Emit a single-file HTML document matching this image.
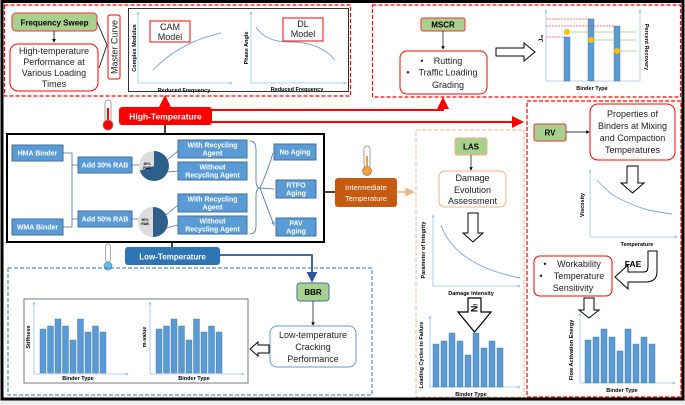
<!DOCTYPE html>
<html><head><meta charset="utf-8"><style>
html,body{margin:0;padding:0;background:#fff}
svg{display:block;font-family:"Liberation Sans",sans-serif}
.bb{fill:#5b9bd5;stroke:#41719c;stroke-width:1}
.bt{fill:#fff;font-size:7px;font-weight:bold;text-anchor:middle}
.gb{fill:#a9d18e;stroke:#e33;stroke-width:1}
.gt{fill:#000;font-size:8px;font-weight:bold;text-anchor:middle}
.rt{fill:#222;font-size:9px;text-anchor:middle}
.ax{stroke:#9dc3e6;stroke-width:0.8;fill:none}
.al{font-size:5.5px;font-weight:bold;fill:#000;text-anchor:middle}
.bar{fill:#5b9bd5;stroke:#41719c;stroke-width:0.4}
.cv{stroke:#7ea6d3;stroke-width:0.9;fill:none}
</style></head><body>
<svg width="685" height="405" viewBox="0 0 685 405">
<defs>
<marker id="ar" markerWidth="6" markerHeight="6" refX="5" refY="3" orient="auto"><path d="M0,0L6,3L0,6z" fill="#f00"/></marker>
<marker id="ab" markerWidth="6" markerHeight="6" refX="5" refY="3" orient="auto"><path d="M0,0L6,3L0,6z" fill="#2f5597"/></marker>
<marker id="ak" markerWidth="5" markerHeight="5" refX="4" refY="2.5" orient="auto"><path d="M0,0L5,2.5L0,5z" fill="#000"/></marker>
<marker id="ao" markerWidth="6" markerHeight="6" refX="5" refY="3" orient="auto"><path d="M0,0L6,3L0,6z" fill="#f4b183"/></marker>
<marker id="abl" markerWidth="5" markerHeight="5" refX="4" refY="2.5" orient="auto"><path d="M0,0L5,2.5L0,5z" fill="#5b9bd5"/></marker>
<marker id="ax" markerWidth="4" markerHeight="4" refX="3" refY="2" orient="auto"><path d="M0,0L4,2L0,4z" fill="#9dc3e6"/></marker>
</defs>
<rect x="0" y="400" width="685" height="5" fill="#eee"/>
<rect x="2" y="1.5" width="681" height="397.5" fill="none" stroke="#000" stroke-width="3"/>

<!-- top-left red dashed -->
<rect x="4.5" y="5" width="346" height="91" fill="none" stroke="#f00" stroke-width="1.2" stroke-dasharray="4,2"/>
<rect x="12" y="13" width="85" height="18" rx="4" class="gb"/>
<text x="54.5" y="25.5" class="gt" font-size="8.5">Frequency Sweep</text>
<line x1="54" y1="31" x2="54" y2="42" stroke="#000" stroke-width="0.8" marker-end="url(#ak)"/>
<rect x="10" y="44" width="88" height="47" rx="8" fill="#fff" stroke="#f00"/>
<text class="rt" font-size="8"><tspan x="54" y="54">High-temperature</tspan><tspan x="54" y="65">Performance at</tspan><tspan x="54" y="76">Various Loading</tspan><tspan x="54" y="87">Times</tspan></text>
<path d="M97,22 L107,45 M99,68 L107,45" stroke="#000" stroke-width="0.8" fill="none"/>
<rect x="108" y="15" width="12" height="64" rx="2" fill="#fff" stroke="#f00"/>
<text x="117.5" y="47" class="rt" font-size="8" transform="rotate(-90 117.5 47)">Master Curve</text>
<rect x="128.5" y="8.5" width="220" height="83" fill="#fff" stroke="#333" stroke-width="1"/>
<line x1="138" y1="83" x2="138" y2="12" class="ax" marker-end="url(#ax)"/>
<line x1="138" y1="83" x2="232" y2="83" class="ax" marker-end="url(#ax)"/>
<path d="M153,70 Q180,42 221,33" class="cv"/>
<rect x="150" y="21" width="40" height="21" fill="#fff" stroke="#f00"/>
<text class="rt" font-size="8"><tspan x="170" y="30">CAM</tspan><tspan x="170" y="40">Model</tspan></text>
<text x="136" y="48" class="al" transform="rotate(-90 136 48)">Complex Modulus</text>
<text x="184" y="92" class="al">Reduced Frequency</text>
<line x1="251" y1="83" x2="251" y2="12" class="ax" marker-end="url(#ax)"/>
<line x1="251" y1="83" x2="346" y2="83" class="ax" marker-end="url(#ax)"/>
<path d="M256,27 Q265,42 290,42 Q320,42 335,60" class="cv"/>
<rect x="283" y="18" width="40" height="23" fill="#fff" stroke="#f00"/>
<text class="rt" font-size="8"><tspan x="303" y="27">DL</tspan><tspan x="303" y="37">Model</tspan></text>
<text x="248" y="48" class="al" transform="rotate(-90 248 48)">Phase Angle</text>
<text x="297" y="91" class="al">Reduced Frequency</text>

<!-- top-right red dashed -->
<rect x="372.5" y="5" width="308" height="92" fill="none" stroke="#f00" stroke-width="1.2" stroke-dasharray="4,2"/>
<rect x="421" y="18" width="44" height="13" rx="2" class="gb"/>
<text x="443" y="27.5" class="gt">MSCR</text>
<line x1="443" y1="31" x2="443" y2="49" stroke="#000" stroke-width="0.7" marker-end="url(#ak)"/>
<rect x="400" y="51" width="87" height="43" rx="7" fill="#fff" stroke="#f00"/>
<text class="rt" font-size="8.5"><tspan x="422" y="64">•</tspan><tspan x="448" y="64">Rutting</tspan><tspan x="408" y="75.5">•</tspan><tspan x="448" y="75.5">Traffic Loading</tspan><tspan x="448" y="88">Grading</tspan></text>
<path d="M496,48 L524,48 L524,43 L535,52 L524,61 L524,56 L496,56 Z" fill="#fff" stroke="#000" stroke-width="1"/>
<line x1="546" y1="81" x2="546" y2="10" class="ax" marker-end="url(#ax)"/>
<line x1="546" y1="81" x2="640" y2="81" class="ax"/>
<line x1="640" y1="81" x2="640" y2="10" class="ax" marker-end="url(#ax)"/>
<rect x="564" y="37" width="6" height="44" class="bar"/>
<rect x="588" y="19" width="6" height="62" class="bar"/>
<rect x="614" y="26" width="6" height="55" class="bar"/>
<path d="M546,37 H565 M546,19 H590 M546,26 H615" stroke="#f00" stroke-width="0.6" stroke-dasharray="2,1"/>
<path d="M567,32 H637 M591,40 H637 M617,51 H637" stroke="#70ad47" stroke-width="0.6"/>
<circle cx="567" cy="32" r="3" fill="#ffc000"/><circle cx="591" cy="40" r="3" fill="#ffc000"/><circle cx="617" cy="51" r="3" fill="#ffc000"/>
<text x="543" y="42" font-size="6" font-weight="bold" transform="rotate(-90 543 42)">J<tspan font-size="4">nr</tspan></text>
<text x="645" y="47" class="al" transform="rotate(90 645 47)">Percent Recovery</text>
<text x="592" y="90" class="al">Binder Type</text>

<!-- high temp -->
<g transform="translate(108,100)"><rect x="-3" y="0" width="6" height="22" rx="3" fill="#fff" stroke="#888" stroke-width="0.8"/><rect x="-1" y="8" width="2" height="14" fill="#f00"/><circle cx="0" cy="25" r="5" fill="#f00" stroke="#888" stroke-width="0.8"/></g>
<line x1="165" y1="107" x2="165" y2="97" stroke="#f00" stroke-width="2" marker-end="url(#ar)"/>
<path d="M212,110 H443 V99" stroke="#f00" stroke-width="2" fill="none" marker-end="url(#ar)"/>
<path d="M212,122 H522" stroke="#f00" stroke-width="2" fill="none" marker-end="url(#ar)"/>
<rect x="119" y="107" width="93" height="18" rx="3" fill="#f00"/>
<text x="165.5" y="119.5" fill="#fff" font-size="8.5" font-weight="bold" text-anchor="middle">High-Temperature</text>
<line x1="165" y1="125" x2="165" y2="134" stroke="#000" stroke-width="1.5"/>

<!-- main box -->
<rect x="7" y="134" width="317" height="108" fill="#fff" stroke="#000" stroke-width="2"/>
<rect x="12" y="145" width="51" height="16" class="bb"/><text x="37.5" y="155.5" class="bt">HMA Binder</text>
<rect x="12" y="219" width="51" height="16" class="bb"/><text x="37.5" y="229.5" class="bt">WMA Binder</text>
<path d="M63,153 H72 V227 H63 M72,165 H78 M72,219 H78" stroke="#41719c" stroke-width="0.8" fill="none"/>
<rect x="78" y="157" width="54" height="16" class="bb"/><text x="105" y="167.5" class="bt">Add 30% RAB</text>
<rect x="78" y="211" width="54" height="16" class="bb"/><text x="105" y="221.5" class="bt">Add 50% RAB</text>
<path d="M132,165 H139 M132,219 H138" stroke="#41719c" stroke-width="0.8"/>
<circle cx="154" cy="166" r="15" fill="#ddd"/>
<path d="M154,166 L154,151 A15,15 0 1 1 139.7,170.6 Z" fill="#2e5f8a"/>
<text x="147" y="165" font-size="3.5" font-weight="bold" text-anchor="middle">30%</text><text x="147" y="169" font-size="3.5" font-weight="bold" text-anchor="middle">RAB</text>
<circle cx="153" cy="222" r="15" fill="#ddd"/>
<path d="M153,222 L153,207 A15,15 0 0 1 153,237 Z" fill="#2e5f8a"/>
<text x="145" y="221" font-size="3.5" font-weight="bold" text-anchor="middle">50%</text><text x="145" y="225" font-size="3.5" font-weight="bold" text-anchor="middle">RAB</text>
<path d="M167,160 L178,151 M167,172 L178,171 M166,215 L178,205 M166,228 L178,225" stroke="#41719c" stroke-width="0.8"/>
<rect x="178" y="140" width="69" height="18" class="bb"/><text class="bt"><tspan x="212.5" y="147.5">With Recycling</tspan><tspan x="212.5" y="155.5">Agent</tspan></text>
<rect x="178" y="162" width="69" height="18" class="bb"/><text class="bt"><tspan x="212.5" y="169.5">Without</tspan><tspan x="212.5" y="177.5">Recycling Agent</tspan></text>
<rect x="178" y="194" width="69" height="18" class="bb"/><text class="bt"><tspan x="212.5" y="201.5">With Recycling</tspan><tspan x="212.5" y="209.5">Agent</tspan></text>
<rect x="178" y="216" width="69" height="18" class="bb"/><text class="bt"><tspan x="212.5" y="223.5">Without</tspan><tspan x="212.5" y="231.5">Recycling Agent</tspan></text>
<path d="M250,141 Q256,141 256,150 V180 Q256,188 260,188 Q256,188 256,196 V226 Q256,234 250,234" stroke="#41719c" stroke-width="0.8" fill="none"/>
<path d="M260,188 Q268,170 273,153 M260,188 L274,189 M260,188 Q268,210 274,225" stroke="#41719c" stroke-width="0.8" fill="none" marker-end="url(#abl)"/>
<rect x="274" y="144" width="42" height="16" class="bb"/><text x="295" y="154.5" class="bt">No Aging</text>
<rect x="276" y="180" width="40" height="18" class="bb"/><text class="bt"><tspan x="296" y="187.5">RTFO</tspan><tspan x="296" y="195.5">Aging</tspan></text>
<rect x="276" y="218" width="40" height="18" class="bb"/><text class="bt"><tspan x="296" y="225.5">PAV</tspan><tspan x="296" y="233.5">Aging</tspan></text>

<!-- intermediate -->
<line x1="324" y1="192" x2="335" y2="192" stroke="#000" stroke-width="1.5"/>
<g transform="translate(367,146)"><rect x="-3" y="0" width="6" height="22" rx="3" fill="#fff" stroke="#888" stroke-width="0.8"/><rect x="-1" y="10" width="2" height="12" fill="#f4a030"/><circle cx="0" cy="25" r="4.5" fill="#f4a030" stroke="#888" stroke-width="0.8"/></g>
<rect x="335" y="178" width="62" height="29" rx="3" fill="#c55a11"/>
<text fill="#fff" font-size="7.5" text-anchor="middle"><tspan x="366" y="190">Intermediate</tspan><tspan x="366" y="201">Temperature</tspan></text>
<line x1="397" y1="192" x2="413" y2="192" stroke="#f4b183" stroke-width="1.5" marker-end="url(#ao)"/>

<!-- low temp -->
<line x1="172" y1="242" x2="172" y2="247" stroke="#000" stroke-width="1.5"/>
<g transform="translate(108,244)"><rect x="-2.5" y="0" width="5" height="18" rx="2.5" fill="#fff" stroke="#888" stroke-width="0.7"/><circle cx="0" cy="22" r="4" fill="#5bc0eb" stroke="#888" stroke-width="0.7"/></g>
<path d="M220,255 H312 V281" stroke="#2f5597" stroke-width="1.8" fill="none" marker-end="url(#ab)"/>
<rect x="125" y="247" width="95" height="18" rx="3" fill="#2e75b6"/>
<text x="172.5" y="259.5" fill="#fff" font-size="8" font-weight="bold" text-anchor="middle">Low-Temperature</text>
<rect x="8" y="268" width="364" height="127" fill="none" stroke="#2e75b6" stroke-width="1" stroke-dasharray="4,2"/>
<rect x="297" y="283" width="32" height="18" rx="3" class="gb" style="stroke:#41719c"/>
<text x="313" y="295" class="gt">BBR</text>
<line x1="313" y1="301" x2="313" y2="325" stroke="#000" stroke-width="0.7" marker-end="url(#ak)"/>
<rect x="270" y="326" width="86" height="41" rx="7" fill="#fff" stroke="#5b9bd5"/>
<text class="rt" font-size="8"><tspan x="313" y="338">Low-temperature</tspan><tspan x="313" y="350">Cracking</tspan><tspan x="313" y="362">Performance</tspan></text>
<path d="M269,345 L258,345 L258,342 L250,349 L258,356 L258,353 L269,353 Z" fill="#fff" stroke="#000" stroke-width="1"/>
<rect x="24" y="299" width="224" height="84" fill="#fff" stroke="#555" stroke-width="0.8"/>
<g id="bc1">
<line x1="34" y1="374" x2="34" y2="302" class="ax" marker-end="url(#ax)"/>
<line x1="34" y1="374" x2="128" y2="374" class="ax" marker-end="url(#ax)"/>
<rect x="40" y="329" width="6" height="44" class="bar"/><rect x="47.5" y="326" width="6" height="47" class="bar"/><rect x="55" y="319" width="6" height="54" class="bar"/><rect x="62.5" y="326" width="6" height="47" class="bar"/><rect x="70" y="340" width="6" height="33" class="bar"/><rect x="77.5" y="319" width="6" height="54" class="bar"/><rect x="85" y="332" width="6" height="41" class="bar"/><rect x="92.5" y="326" width="6" height="47" class="bar"/><rect x="100" y="332" width="6" height="41" class="bar"/>
</g>
<text x="30" y="337" class="al" transform="rotate(-90 30 337)">Stiffness</text>
<text x="78" y="380" class="al">Binder Type</text>
<use href="#bc1" x="116"/>
<text x="146" y="337" class="al" transform="rotate(-90 146 337)">m-value</text>
<text x="194" y="380" class="al">Binder Type</text>

<!-- LAS orange -->
<rect x="416" y="130" width="108" height="267" fill="none" stroke="#f4b183" stroke-width="1" stroke-dasharray="4,2"/>
<rect x="455" y="138" width="32" height="17" rx="2" fill="#a9d18e" stroke="#f4b183"/>
<text x="471" y="149.5" class="gt">LAS</text>
<line x1="471" y1="155" x2="471" y2="170" stroke="#000" stroke-width="0.7" marker-end="url(#ak)"/>
<rect x="439" y="171" width="67" height="36" rx="6" fill="#fff" stroke="#f4b183"/>
<text class="rt" font-size="8"><tspan x="472.5" y="181">Damage</tspan><tspan x="472.5" y="193">Evolution</tspan><tspan x="472.5" y="204">Assessment</tspan></text>
<path d="M468,213 H478 V233 H483 L473,242 L463,233 H468 Z" fill="#fff" stroke="#000" stroke-width="1"/>
<line x1="433" y1="286" x2="433" y2="215" class="ax" marker-end="url(#ax)"/>
<line x1="433" y1="286" x2="520" y2="286" class="ax" marker-end="url(#ax)"/>
<path d="M441,225 Q455,265 520,278" class="cv"/>
<text x="425" y="250" class="al" transform="rotate(-90 425 250)">Parameter of Integrity</text>
<text x="471" y="295" class="al">Damage Intensity</text>
<path d="M468,298 H481 V312 H491 L474.5,332 L458,312 H468 Z" fill="#fff" stroke="#000" stroke-width="1.2"/>
<text x="474.5" y="311" font-size="9" font-weight="bold" text-anchor="middle" transform="rotate(-90 474.5 308)">N<tspan font-size="5">f</tspan></text>
<line x1="430" y1="387" x2="430" y2="316" class="ax" marker-end="url(#ax)"/>
<line x1="430" y1="387" x2="520" y2="387" class="ax" marker-end="url(#ax)"/>
<g>
<rect x="433" y="344" width="6" height="43" class="bar"/><rect x="441" y="341" width="6" height="46" class="bar"/><rect x="449" y="333" width="6" height="54" class="bar"/><rect x="457" y="341" width="6" height="46" class="bar"/><rect x="465" y="355" width="6" height="32" class="bar"/><rect x="473" y="333" width="6" height="54" class="bar"/><rect x="481" y="348" width="6" height="39" class="bar"/><rect x="489" y="341" width="6" height="46" class="bar"/><rect x="497" y="348" width="6" height="39" class="bar"/>
</g>
<text x="423" y="355" class="al" transform="rotate(-90 423 355)">Loading Cycles to Failure</text>
<text x="471" y="396" class="al">Binder Type</text>

<!-- RV red -->
<rect x="527" y="101" width="154" height="296" fill="none" stroke="#f00" stroke-width="1.2" stroke-dasharray="4,2"/>
<rect x="534" y="124" width="32" height="17" rx="2" class="gb"/>
<text x="550" y="135.5" class="gt">RV</text>
<line x1="566" y1="132" x2="589" y2="132" stroke="#000" stroke-width="0.7" marker-end="url(#ak)"/>
<rect x="590" y="104" width="85" height="56" rx="8" fill="#fff" stroke="#f00"/>
<text class="rt" font-size="8"><tspan x="632.5" y="117">Properties of</tspan><tspan x="632.5" y="129">Binders at Mixing</tspan><tspan x="632.5" y="141">and Compaction</tspan><tspan x="632.5" y="153">Temperatures</tspan></text>
<path d="M627,166 H638 V183 H644 L632.5,193 L621,183 H627 Z" fill="#fff" stroke="#000" stroke-width="1"/>
<line x1="590" y1="237" x2="590" y2="170" class="ax" marker-end="url(#ax)"/>
<line x1="590" y1="237" x2="677" y2="237" class="ax" marker-end="url(#ax)"/>
<path d="M597,180 Q610,195 622,200 Q640,208 648,210 Q665,213 672,214" class="cv"/>
<text x="584" y="205" class="al" transform="rotate(-90 584 205)">Viscosity</text>
<text x="637" y="246" class="al">Temperature</text>
<rect x="534" y="256" width="78" height="40" rx="6" fill="#fff" stroke="#f00"/>
<text class="rt" font-size="8"><tspan x="545" y="267">•</tspan><tspan x="579" y="267">Workability</tspan><tspan x="541" y="279">•</tspan><tspan x="579" y="279">Temperature</tspan><tspan x="573" y="291">Sensitivity</tspan></text>
<path d="M648,251 H657 V272 Q657,282 645,282 H628 V289 L615,277 L628,265 V272 H644 Q648,272 648,266 Z" fill="#fff" stroke="#000" stroke-width="1"/>
<text x="633" y="267" font-size="8.5" font-weight="bold" text-anchor="middle">FAE</text>
<path d="M584,298 H594 V310 H599 L589,318 L579,310 H584 Z" fill="#fff" stroke="#000" stroke-width="1"/>
<line x1="580" y1="383" x2="580" y2="313" class="ax" marker-end="url(#ax)"/>
<line x1="580" y1="383" x2="675" y2="383" class="ax" marker-end="url(#ax)"/>
<g>
<rect x="585" y="340" width="6" height="43" class="bar"/><rect x="593" y="337" width="6" height="46" class="bar"/><rect x="601" y="329" width="6" height="54" class="bar"/><rect x="609" y="337" width="6" height="46" class="bar"/><rect x="617" y="351" width="6" height="32" class="bar"/><rect x="625" y="329" width="6" height="54" class="bar"/><rect x="633" y="344" width="6" height="39" class="bar"/><rect x="641" y="337" width="6" height="46" class="bar"/><rect x="649" y="344" width="6" height="39" class="bar"/>
</g>
<text x="573" y="350" class="al" transform="rotate(-90 573 350)">Flow Activation Energy</text>
<text x="622" y="392" class="al">Binder Type</text>
</svg>
</body></html>
